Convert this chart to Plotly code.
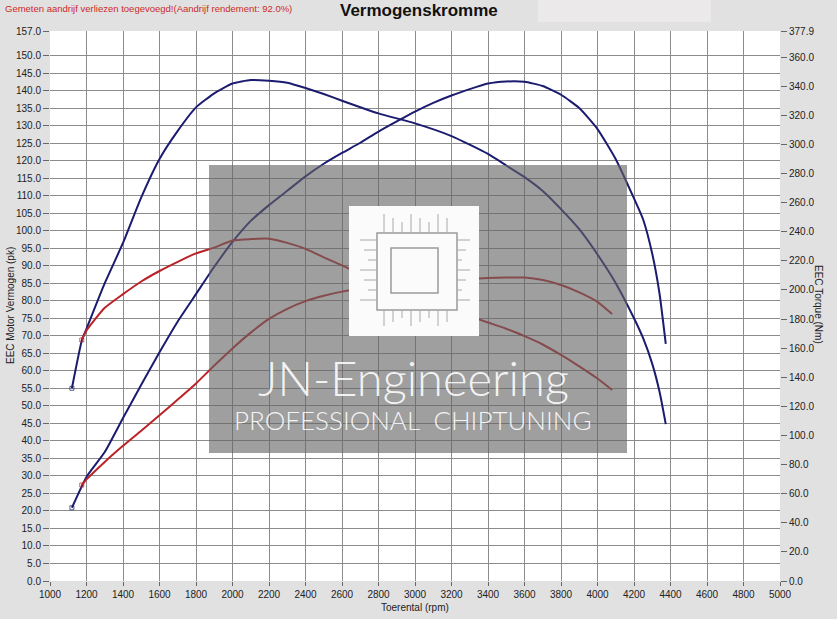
import plotly.graph_objects as go

# ---------------- data ----------------
rpm_tuned = [1120, 1200, 1300, 1400, 1500, 1600, 1700, 1800, 1900, 2000, 2100, 2200, 2300,
             2400, 2500, 2600, 2700, 2800, 2900, 3000, 3100, 3200, 3300, 3400, 3500, 3600,
             3700, 3800, 3900, 4000, 4100, 4200, 4250, 4300, 4340, 4374]
power_tuned = [20.9, 29.7, 36.8, 46.5, 56.0, 65.3, 74.1, 81.9, 89.7, 96.8, 102.8, 107.3, 111.4,
               115.5, 119.1, 122.2, 125.1, 128.3, 131.2, 134.0, 136.5, 138.6, 140.4, 142.0, 142.6, 142.5,
               141.3, 138.8, 135.0, 129.0, 120.4, 109.2, 103.2, 93.4, 82.0, 67.7]

rpm_tuned_tq = [1120, 1175, 1200, 1300, 1400, 1500, 1600, 1700, 1800, 1900, 2000, 2100, 2200,
                2300, 2400, 2500, 2600, 2800, 3000, 3200, 3400, 3500, 3600, 3700, 3800, 3900,
                4000, 4100, 4200, 4250, 4300, 4340, 4374]
torque_tuned = [132.4, 165.6, 173.3, 204.6, 232.3, 263.6, 290.0, 309.3, 325.4, 335.1, 341.8, 344.2, 343.7,
                342.3, 338.7, 334.6, 330.0, 321.3, 314.4, 305.7, 293.4, 285.5, 277.5, 268.0, 255.5, 241.7,
                224.3, 204.6, 180.5, 166.8, 149.2, 130.0, 107.8]

rpm_stock = [1174, 1200, 1300, 1400, 1500, 1600, 1700, 1800, 1900, 2000, 2100, 2200, 2300,
             2400, 2500, 2600, 2700, 2800, 2900, 3000, 3100, 3200, 3300, 3400, 3500, 3600,
             3700, 3800, 3900, 4000, 4080]
power_stock = [27.4, 29.0, 34.0, 38.6, 42.9, 47.3, 51.8, 56.4, 61.5, 66.4, 70.9, 74.8, 77.7,
               79.9, 81.4, 82.6, 83.4, 84.0, 84.4, 84.9, 85.4, 85.8, 86.2, 86.5, 86.6, 86.6,
               85.9, 84.5, 82.4, 79.7, 76.2]
torque_stock = [165.6, 172.1, 187.7, 197.1, 205.8, 213.0, 219.3, 225.1, 229.1, 234.0, 234.9, 235.2, 232.3,
                228.2, 222.4, 216.9, 211.1, 205.8, 201.0, 195.9, 190.9, 186.5, 182.0, 177.6, 173.3, 168.2,
                162.5, 155.3, 147.5, 139.1, 131.2]

x_ticks = list(range(1000, 5001, 200))
y_ticks = [v * 5 for v in range(0, 31)] + [157.0]
y2_ticks = [v * 20 for v in range(0, 19)] + [377.9]

# ---------------- figure ----------------
W, H = 837, 619
L, R, T, B = 50, 780, 31, 581

def px(x):
    return (x - L) / (R - L)

def py(y):
    return (B - y) / (B - T)

BLUE = "#1b1b70"
RED = "#bb2228"
FONT = "Liberation Sans, Arial, sans-serif"

fig = go.Figure()

def add(xs, ys, color, axis):
    n = len(xs)
    fig.add_trace(go.Scatter(
        x=xs, y=ys, mode="lines+markers", yaxis=axis,
        line=dict(color=color, width=2, shape="spline", smoothing=0.5),
        marker=dict(size=[4] + [0] * (n - 1), symbol="square-open", color=color),
        showlegend=False, hoverinfo="skip"))

add(rpm_tuned, power_tuned, BLUE, "y")
add(rpm_tuned_tq, torque_tuned, BLUE, "y2")
add(rpm_stock, power_stock, RED, "y")
add(rpm_stock, torque_stock, RED, "y2")

shapes = []
# lighter box in header
shapes.append(dict(type="rect", xref="paper", yref="paper", x0=px(538), x1=px(711),
                   y0=py(22), y1=py(0), fillcolor="#ebe9ea", line=dict(width=0), layer="below"))
# watermark grey panel
shapes.append(dict(type="rect", xref="paper", yref="paper", x0=px(209), x1=px(627),
                   y0=py(453), y1=py(165), fillcolor="rgba(100,100,100,0.62)",
                   line=dict(width=0), layer="above"))
# chip logo
shapes.append(dict(type="rect", xref="paper", yref="paper", x0=px(349), x1=px(479),
                   y0=py(336), y1=py(206), fillcolor="#fbfbfb", line=dict(width=0), layer="above"))
shapes.append(dict(type="rect", xref="paper", yref="paper", x0=px(377), x1=px(457),
                   y0=py(310), y1=py(233), fillcolor="rgba(0,0,0,0)",
                   line=dict(color="#9a9a9a", width=1.5), layer="above"))
shapes.append(dict(type="rect", xref="paper", yref="paper", x0=px(391), x1=px(438),
                   y0=py(293), y1=py(248), fillcolor="rgba(0,0,0,0)",
                   line=dict(color="#9a9a9a", width=1.5), layer="above"))
# circuit traces
for i in range(8):
    xx = 384 + i * 9
    shapes.append(dict(type="line", xref="paper", yref="paper", x0=px(xx), x1=px(xx),
                       y0=py(233), y1=py(214 + (i % 3) * 4), line=dict(color="#a8a8a8", width=1), layer="above"))
    shapes.append(dict(type="line", xref="paper", yref="paper", x0=px(xx), x1=px(xx),
                       y0=py(310), y1=py(326 - (i % 3) * 4), line=dict(color="#a8a8a8", width=1), layer="above"))
for i in range(7):
    yy = 240 + i * 10
    shapes.append(dict(type="line", xref="paper", yref="paper", x0=px(377), x1=px(360 + (i % 3) * 4),
                       y0=py(yy), y1=py(yy), line=dict(color="#a8a8a8", width=1), layer="above"))
    shapes.append(dict(type="line", xref="paper", yref="paper", x0=px(457), x1=px(470 - (i % 3) * 4),
                       y0=py(yy), y1=py(yy), line=dict(color="#a8a8a8", width=1), layer="above"))

annotations = [
    dict(text="Gemeten aandrijf verliezen toegevoegd!(Aandrijf rendement: 92.0%)",
         xref="paper", yref="paper", x=px(3), y=py(9), xanchor="left", yanchor="middle",
         showarrow=False, font=dict(family=FONT, size=9.5, color="#cc2a2a")),
    dict(text="<b>Vermogenskromme</b>", xref="paper", yref="paper", x=px(419), y=py(10),
         xanchor="center", yanchor="middle", showarrow=False,
         font=dict(family=FONT, size=17, color="#111111")),
    dict(text="EEC Motor Vermogen (pk)", xref="paper", yref="paper", x=px(10), y=py(306),
         xanchor="center", yanchor="middle", textangle=-90, showarrow=False,
         font=dict(family=FONT, size=10, color="#222222")),
    dict(text="EEC Torque (Nm)", xref="paper", yref="paper", x=px(819), y=py(304),
         xanchor="center", yanchor="middle", textangle=90, showarrow=False,
         font=dict(family=FONT, size=10, color="#222222")),
    dict(text="Toerental (rpm)", xref="paper", yref="paper", x=px(415), y=py(607),
         xanchor="center", yanchor="middle", showarrow=False,
         font=dict(family=FONT, size=10, color="#222222")),
    dict(text="JN-Engineering", xref="paper", yref="paper", x=px(413), y=py(378),
         xanchor="center", yanchor="middle", showarrow=False,
         font=dict(family="Lato, Open Sans, sans-serif", size=47, color="rgba(255,255,255,0.9)", weight=300)),
    dict(text="PROFESSIONAL  CHIPTUNING", xref="paper", yref="paper", x=px(413), y=py(420),
         xanchor="center", yanchor="middle", showarrow=False,
         font=dict(family="Lato, Open Sans, sans-serif", size=26, color="rgba(255,255,255,0.9)", weight=300)),
]

axis_font = dict(family=FONT, size=10, color="#222222")

fig.update_layout(
    width=W, height=H,
    margin=dict(l=L, r=W - R, t=T, b=H - B, pad=0),
    paper_bgcolor="#e1e1e1", plot_bgcolor="#ffffff",
    showlegend=False,
    shapes=shapes, annotations=annotations,
    xaxis=dict(range=[1000, 5000], tickvals=x_ticks, ticktext=[str(v) for v in x_ticks],
               showgrid=True, gridcolor="#8c8c8c", gridwidth=1, zeroline=False,
               ticks="outside", ticklen=4, tickcolor="#666666", tickfont=axis_font,
               showline=False, fixedrange=True),
    yaxis=dict(range=[0, 157], tickvals=y_ticks, ticktext=["%.1f" % v for v in y_ticks],
               showgrid=True, gridcolor="#8c8c8c", gridwidth=1, zeroline=False,
               ticks="outside", ticklen=6, tickcolor="#666666", tickfont=axis_font,
               showline=False, fixedrange=True),
    yaxis2=dict(range=[0, 377.9], overlaying="y", side="right",
                tickvals=y2_ticks, ticktext=["%.1f" % v for v in y2_ticks],
                showgrid=False, zeroline=False, ticks="outside", ticklen=6, tickcolor="#666666",
                tickfont=axis_font, showline=False, fixedrange=True),
)

fig.write_html("out.html", config={"displayModeBar": False},
               post_script="document.body.style.margin='0';document.body.style.padding='0';")
